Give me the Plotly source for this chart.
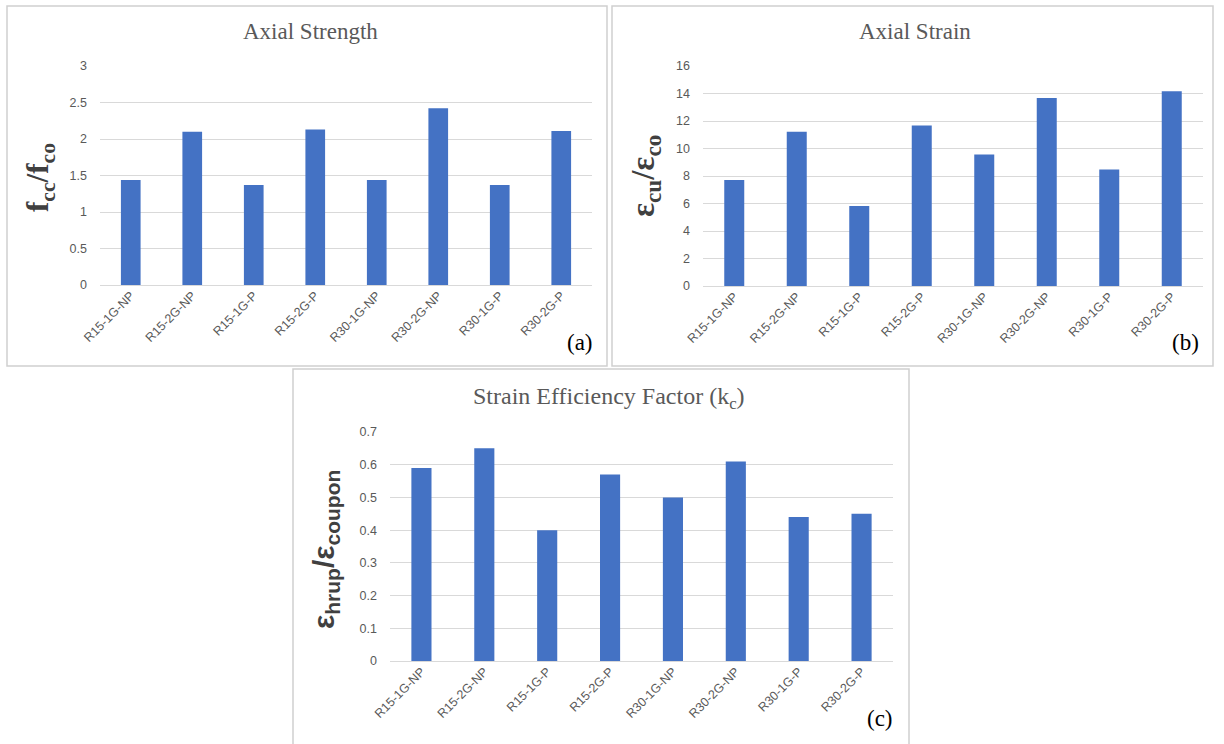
import plotly.graph_objects as go

W, H = 1224, 744

# Specimen labels shared by all three panels
specimens = ["R15-1G-NP", "R15-2G-NP", "R15-1G-P", "R15-2G-P",
             "R30-1G-NP", "R30-2G-NP", "R30-1G-P", "R30-2G-P"]

# (a) confined / unconfined axial strength ratio
strength_ratio = [1.44, 2.10, 1.37, 2.13, 1.44, 2.42, 1.37, 2.11]
strength_ticks = [0, 0.5, 1, 1.5, 2, 2.5, 3]

# (b) ultimate / unconfined axial strain ratio
strain_ratio = [7.71, 11.22, 5.81, 11.68, 9.56, 13.68, 8.48, 14.17]
strain_ticks = [0, 2, 4, 6, 8, 10, 12, 14, 16]

# (c) hoop rupture strain / coupon strain
efficiency = [0.59, 0.65, 0.40, 0.57, 0.50, 0.61, 0.44, 0.45]
efficiency_ticks = [0, 0.1, 0.2, 0.3, 0.4, 0.5, 0.6, 0.7]

BAR = "#4472C4"
GRID = "#d9d9d9"
TICK = "#595959"
FRAME = "#d0d0d0"


def px_x(x):
    return x / W


def px_y(y):
    return 1 - y / H


fig = go.Figure()

panels = [
    # axis suffix, values, ticks, range, plot box (px: left, right, top, bottom)
    ("", strength_ratio, strength_ticks, [0, 3], (100, 592, 66, 285)),
    ("2", strain_ratio, strain_ticks, [0, 16], (703, 1203, 66, 286)),
    ("3", efficiency, efficiency_ticks, [0, 0.7], (390, 893, 432, 661)),
]

layout_axes = {}
for suffix, vals, ticks, rng, (l, r, t, b) in panels:
    xa = "x" + suffix
    ya = "y" + suffix
    fig.add_trace(go.Bar(
        x=specimens, y=vals, xaxis=xa, yaxis=ya,
        marker=dict(color=BAR, line=dict(width=0)),
        showlegend=False,
    ))
    layout_axes["xaxis" + suffix] = dict(
        domain=[px_x(l), px_x(r)], anchor=ya, automargin=False,
        tickangle=-45, tickfont=dict(family="Liberation Sans", size=12.5, color=TICK),
        showgrid=False, showline=False, ticks="", fixedrange=True,
    )
    layout_axes["yaxis" + suffix] = dict(
        domain=[px_y(b), px_y(t)], anchor=xa, range=rng, automargin=False,
        tickvals=ticks, ticktext=[f"{v:g}" for v in ticks],
        tickfont=dict(family="Liberation Sans", size=12.5, color=TICK),
        showgrid=True, gridcolor=GRID, gridwidth=1,
        zeroline=True, zerolinecolor=GRID, zerolinewidth=1,
        showline=False, ticks="", ticklabelstandoff=12,
    )

fig.update_layout(
    width=W, height=H, autosize=False,
    margin=dict(l=0, r=0, t=0, b=0, pad=0, autoexpand=False),
    paper_bgcolor="white", plot_bgcolor="white",
    bargap=0.68,
    **layout_axes,
)

# Panel frames
for (x0, y0, x1, y1) in [(7, 6, 607, 366), (612, 6, 1213, 366), (293, 369, 909, 760)]:
    fig.add_shape(type="rect", xref="paper", yref="paper",
                  x0=px_x(x0), x1=px_x(x1), y0=px_y(y1), y1=px_y(y0),
                  line=dict(color=FRAME, width=1.5), fillcolor="rgba(0,0,0,0)")


def note(text, x, y, size, family, color="black", angle=0):
    fig.add_annotation(text=text, x=px_x(x), y=px_y(y), xref="paper", yref="paper",
                       showarrow=False, textangle=angle, xanchor="center", yanchor="middle",
                       font=dict(size=size, family=family, color=color))


serif = "Liberation Serif"
# Panel titles
note("Axial Strength", 310, 32, 23, serif, TICK)
note("Axial Strain", 915, 32, 23, serif, TICK)
note("Strain Efficiency Factor (k<sub>c</sub>)", 609, 398, 24, serif, TICK)

# Y-axis titles
note("<b>f<sub>cc</sub>/f<sub>co</sub></b>", 40, 178, 31, serif, "#404040", -90)
note("<b>ε<sub>cu</sub>/ε<sub>co</sub></b>", 645, 176, 33, serif, "#404040", -90)
note("<b>ε<sub>hrup</sub>/ε<sub>coupon</sub></b>", 325, 550, 30, "Liberation Sans", "#404040", -90)

# Panel letters
note("(a)", 580, 343, 23, serif)
note("(b)", 1185, 343, 23, serif)
note("(c)", 880, 718, 23, serif)

# Page without the default body margin so the figure fills the window
fig.write_html("out.html", post_script="document.body.style.margin='0';")
